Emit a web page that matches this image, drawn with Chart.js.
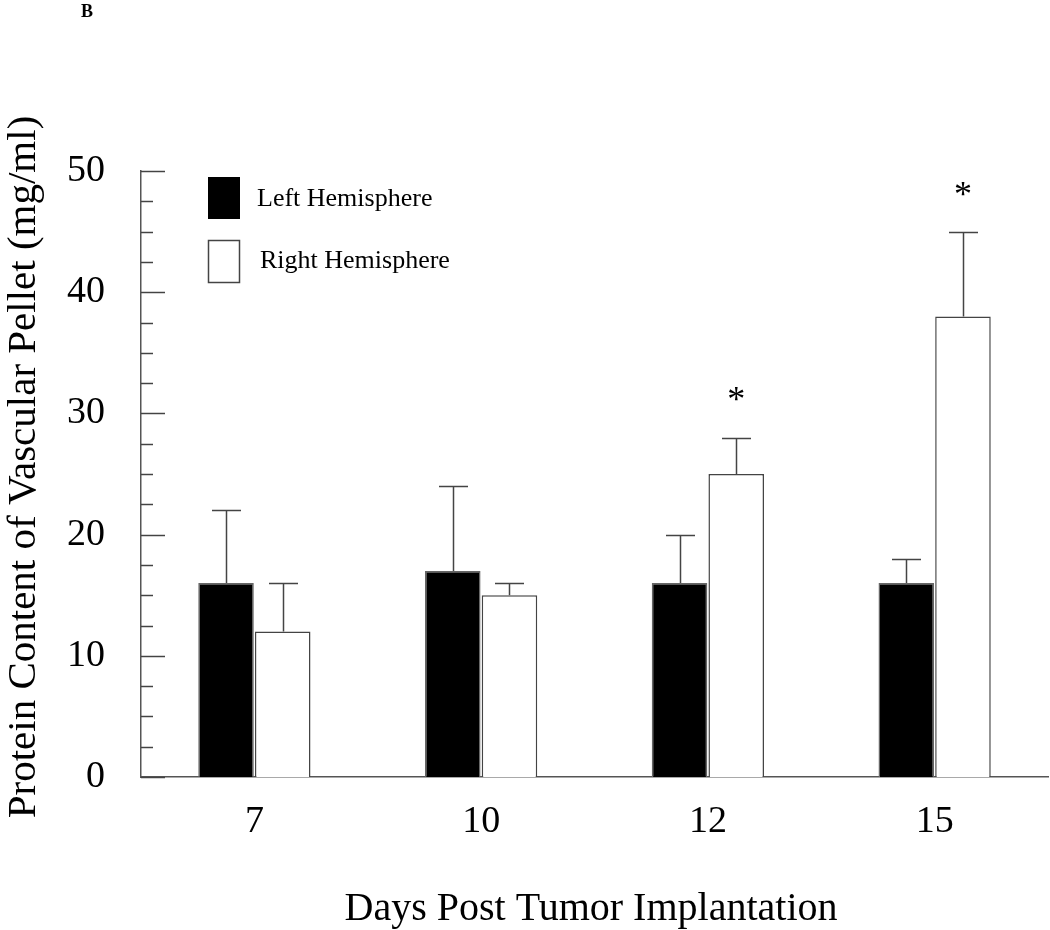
<!DOCTYPE html>
<html>
<head>
<meta charset="utf-8">
<script src="https://cdn.jsdelivr.net/npm/chart.js@4.4.1/dist/chart.umd.min.js"></script>
<style>
  html, body { margin: 0; padding: 0; background: #fff; }
  #wrap { width: 1050px; height: 930px; }
</style>
</head>
<body>
<div id="wrap"><canvas id="proteinChart" width="1050" height="930"></canvas></div>
<script>
const days = ["7", "10", "12", "15"];
const leftMeans = [16, 17, 16, 16];
const rightMeans = [12, 15, 25, 38];
// upper end of error bars
const leftUpper = [22, 24, 20, 18];
const rightUpper = [16, 16, 28, 45];
// significance stars above right hemisphere bars
const rightStars = [null, null, 31.5, 48.4];

const SERIF = '"Liberation Serif", "Times New Roman", serif';
const LINE = "#444";

// inward y ticks, major every 10, minor every 2.5
const yTickMarks = {
  id: "yTickMarks",
  afterDatasetsDraw(chart) {
    const { ctx, scales: { y } } = chart;
    ctx.save();
    ctx.strokeStyle = LINE;
    ctx.lineWidth = 1.5;
    y.ticks.forEach(t => {
      const py = Math.round(y.getPixelForValue(t.value)) + 0.5;
      const len = t.value % 10 === 0 ? 24 : 12;
      ctx.beginPath();
      ctx.moveTo(y.right, py);
      ctx.lineTo(y.right + len, py);
      ctx.stroke();
    });
    ctx.restore();
  }
};

// upper error bars and stars
const errorBars = {
  id: "errorBars",
  afterDatasetsDraw(chart) {
    const { ctx, scales: { y } } = chart;
    const uppers = [leftUpper, rightUpper];
    ctx.save();
    ctx.strokeStyle = LINE;
    ctx.lineWidth = 1.5;
    chart.data.datasets.forEach((ds, di) => {
      const meta = chart.getDatasetMeta(di);
      meta.data.forEach((bar, i) => {
        const x = Math.round(bar.x) + 0.5;
        const top = Math.round(y.getPixelForValue(uppers[di][i])) + 0.5;
        ctx.beginPath();
        ctx.moveTo(x, bar.y);
        ctx.lineTo(x, top);
        ctx.moveTo(x - 14.5, top);
        ctx.lineTo(x + 14.5, top);
        ctx.stroke();
      });
    });
    const rightMeta = chart.getDatasetMeta(1);
    ctx.fillStyle = "#000";
    ctx.font = "36px " + SERIF;
    ctx.textAlign = "center";
    ctx.textBaseline = "middle";
    rightStars.forEach((s, i) => {
      if (s === null) return;
      ctx.fillText("*", rightMeta.data[i].x, y.getPixelForValue(s) + 6);
    });
    ctx.restore();
  }
};

// legend, titles, panel letter
const annotations = {
  id: "annotations",
  afterDraw(chart) {
    const { ctx } = chart;
    ctx.save();
    ctx.lineWidth = 1.5;
    ctx.strokeStyle = LINE;
    ctx.fillStyle = "#000";
    ctx.fillRect(208, 177, 32, 42);
    ctx.strokeRect(208.5, 240.5, 31, 42);
    ctx.font = "26px " + SERIF;
    ctx.textAlign = "left";
    ctx.textBaseline = "alphabetic";
    ctx.fillText(chart.data.datasets[0].label, 257, 206);
    ctx.fillText(chart.data.datasets[1].label, 260, 268);

    ctx.font = "40px " + SERIF;
    ctx.textAlign = "center";
    ctx.fillText("Days Post Tumor Implantation", 591, 920);

    ctx.translate(35, 467);
    ctx.rotate(-Math.PI / 2);
    ctx.font = "41px " + SERIF;
    ctx.fillText("Protein Content of Vascular Pellet (mg/ml)", 0, 0);
    ctx.restore();

    ctx.save();
    ctx.font = "bold 18px " + SERIF;
    ctx.fillStyle = "#000";
    ctx.textBaseline = "alphabetic";
    ctx.fillText("B", 81, 17);
    ctx.restore();
  }
};

new Chart(document.getElementById("proteinChart"), {
  type: "bar",
  data: {
    labels: days,
    datasets: [
      {
        label: "Left Hemisphere",
        data: leftMeans,
        backgroundColor: "#000",
        borderColor: "#666",
        borderWidth: 1.5,
        categoryPercentage: 0.5,
        barPercentage: 0.98
      },
      {
        label: "Right Hemisphere",
        data: rightMeans,
        backgroundColor: "#fff",
        borderColor: LINE,
        borderWidth: 1.5,
        categoryPercentage: 0.5,
        barPercentage: 0.98
      }
    ]
  },
  options: {
    responsive: false,
    animation: false,
    layout: { padding: { top: 171, right: 2, left: 0, bottom: 0 } },
    plugins: {
      legend: { display: false },
      tooltip: { enabled: false }
    },
    scales: {
      x: {
        grid: { display: false },
        border: { display: true, color: "#555", width: 1.5 },
        ticks: { color: "#000", font: { family: SERIF, size: 38 }, padding: 14 },
        afterFit(scale) { scale.height = 153; }
      },
      y: {
        min: 0,
        max: 50,
        grid: { display: false },
        border: { display: true, color: "#555", width: 1.5 },
        ticks: {
          stepSize: 2.5,
          autoSkip: false,
          color: "#000",
          font: { family: SERIF, size: 38 },
          padding: 28,
          callback: v => (v % 10 === 0 ? v : "")
        },
        afterFit(scale) { scale.width = 141; }
      }
    }
  },
  plugins: [yTickMarks, errorBars, annotations]
});
</script>
</body>
</html>
